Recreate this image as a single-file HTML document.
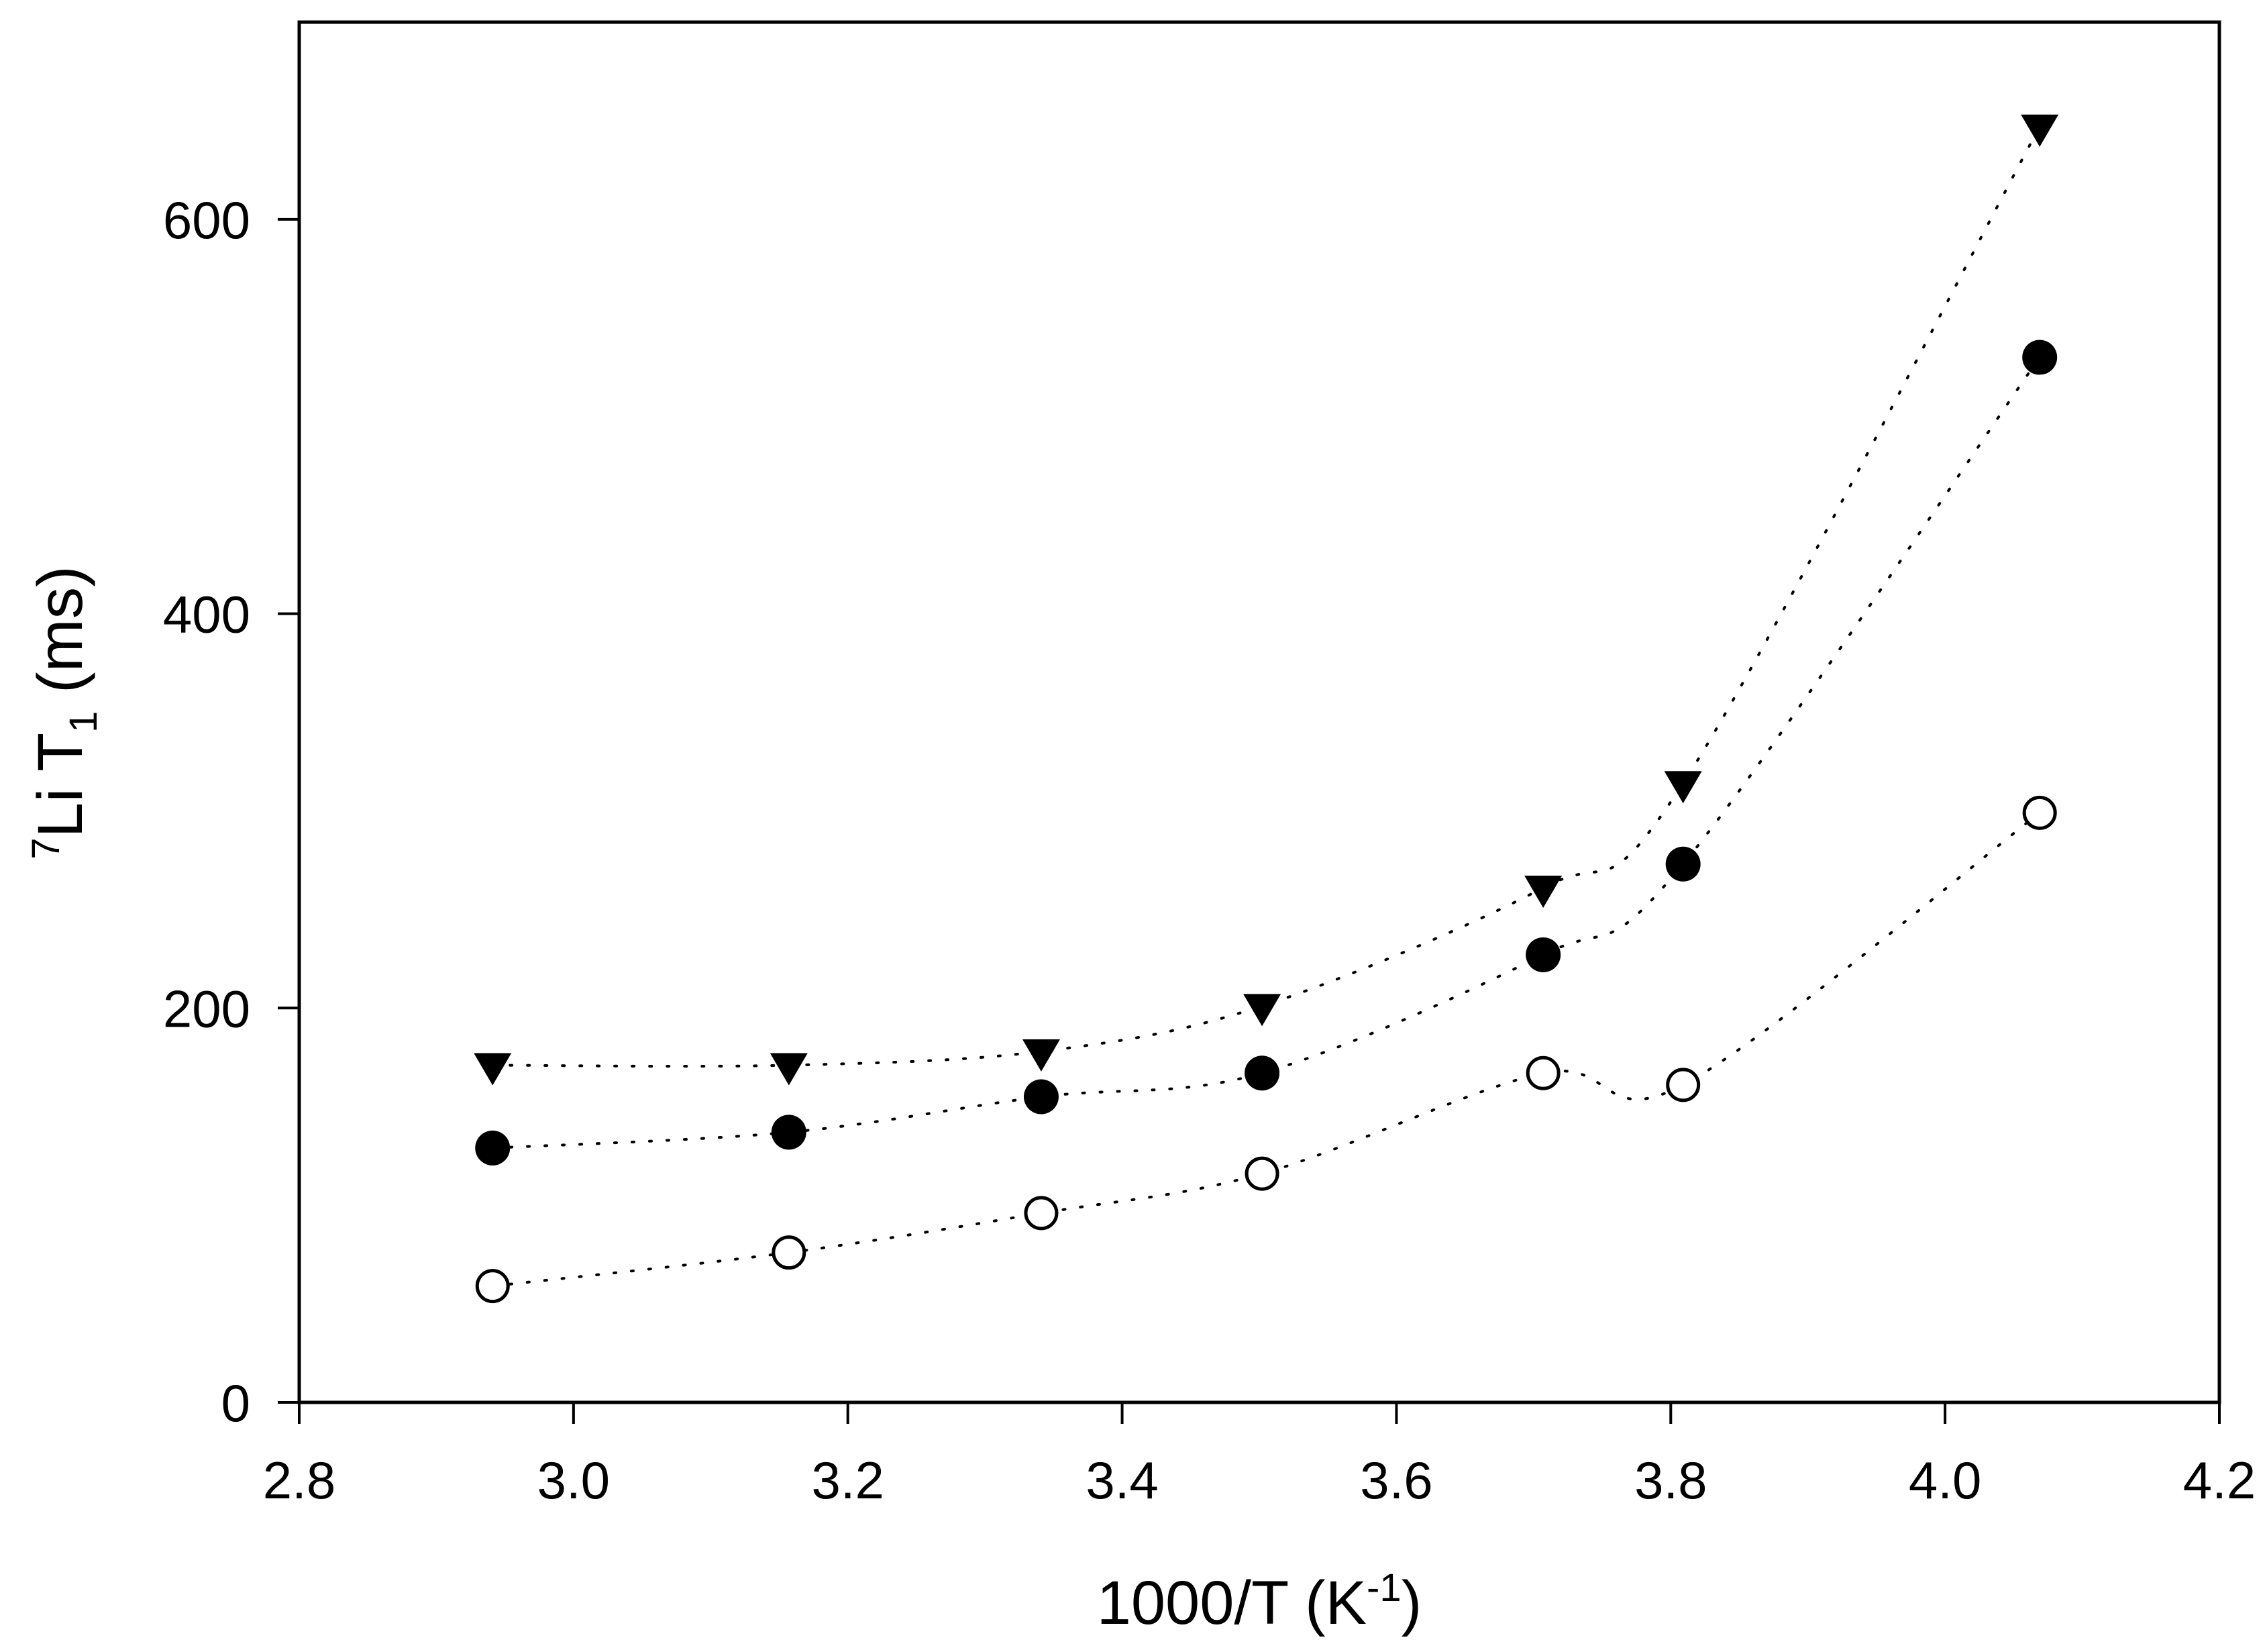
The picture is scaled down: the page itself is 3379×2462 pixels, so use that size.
<!DOCTYPE html>
<html><head><meta charset="utf-8"><style>
html,body{margin:0;padding:0;background:#fff;}
svg{display:block;font-family:"Liberation Sans",Arial,sans-serif;}
</style></head><body>
<svg id="chart" width="3379" height="2462" viewBox="0 0 3379 2462" xmlns="http://www.w3.org/2000/svg">
<g id="axes"></g><g id="series"></g>
</svg>
<script>
const xTicks=[2.8,3.0,3.2,3.4,3.6,3.8,4.0,4.2];
const xTickLabels=["2.8","3.0","3.2","3.4","3.6","3.8","4.0","4.2"];
const yTicks=[0,200,400,600];
const yTickLabels=["0","200","400","600"];
const xValues=[2.941,3.157,3.341,3.502,3.707,3.809,4.069];
const triangleValues=[171,171,178,201,261,314,647];
const filledCircleValues=[129,137,155,167,227,273,530];
const openCircleValues=[59,76,96,116,167,161,299];

const L=446,R=3308,T=33,B=2090,XMIN=2.8,XMAX=4.2,YMIN=0,YMAX=700;
const NS="http://www.w3.org/2000/svg";
function sx(v){return L+(v-XMIN)/(XMAX-XMIN)*(R-L);}
function sy(v){return B-(v-YMIN)/(YMAX-YMIN)*(B-T);}
function mk(tag,attrs,parent){const e=document.createElementNS(NS,tag);for(const k in attrs)e.setAttribute(k,attrs[k]);parent.appendChild(e);return e;}
const axes=document.getElementById('axes'),series=document.getElementById('series');

const frame=mk('rect',{x:L,y:T,width:R-L,height:B-T,fill:'none',stroke:'#000','stroke-width':5},axes);


xTicks.forEach((v,i)=>{
  const t=mk('line',{x1:sx(v),x2:sx(v),y1:B,y2:B+32,stroke:'#000','stroke-width':4},axes);
  
  
  const tx=mk('text',{x:sx(v),y:B+143,'font-size':78,'text-anchor':'middle'},axes);
  tx.textContent=xTickLabels[i];
  
  
});
yTicks.forEach((v,i)=>{
  const t=mk('line',{x1:L-32,x2:L,y1:sy(v),y2:sy(v),stroke:'#000','stroke-width':4},axes);
  
  
  const tx=mk('text',{x:373,y:sy(v)+28,'font-size':78,'text-anchor':'end'},axes);
  tx.textContent=yTickLabels[i];
  
  
});
const xt=mk('text',{x:1877,y:2420,'font-size':92,'text-anchor':'middle'},axes);
xt.innerHTML='1000/T (K<tspan dy="-34" font-size="58">-1</tspan><tspan dy="34">)</tspan>';


const yt=mk('text',{x:0,y:0,'font-size':95,'text-anchor':'middle',transform:'translate(122,1062) rotate(-90)'},axes);
yt.innerHTML='<tspan dy="-34" font-size="58">7</tspan><tspan dy="34">Li T</tspan><tspan dy="22" font-size="58">1</tspan><tspan dy="-22"> (ms)</tspan>';



function curve(vals){
  const p=xValues.map((x,i)=>[sx(x),sy(vals[i])]);
  let d='M'+p[0][0]+','+p[0][1];
  for(let i=0;i<p.length-1;i++){
    const p0=p[i-1]||p[i],p1=p[i],p2=p[i+1],p3=p[i+2]||p[i+1];
    const c1=[p1[0]+(p2[0]-p0[0])/6,p1[1]+(p2[1]-p0[1])/6];
    const c2=[p2[0]-(p3[0]-p1[0])/6,p2[1]-(p3[1]-p1[1])/6];
    d+=' C'+c1[0]+','+c1[1]+' '+c2[0]+','+c2[1]+' '+p2[0]+','+p2[1];
  }
  return d;
}
function addLine(vals,name){
  const l=mk('path',{d:curve(vals),fill:'none',stroke:'#000','stroke-width':4,'stroke-dasharray':'3 23','stroke-linecap':'round'},series);
  
  
}
addLine(triangleValues,'triangle-series-line');
addLine(filledCircleValues,'filled-circle-series-line');
addLine(openCircleValues,'open-circle-series-line');
xValues.forEach((x,i)=>{
  const cx=sx(x);
  let y=sy(triangleValues[i]);
  const tr=mk('path',{d:`M${cx-28},${y-18} L${cx+28},${y-18} L${cx},${y+30} Z`,fill:'#000'},series);
  
  
  y=sy(filledCircleValues[i]);
  const fc=mk('circle',{cx:cx,cy:y,r:26,fill:'#000'},series);
  
  
  y=sy(openCircleValues[i]);
  const oc=mk('circle',{cx:cx,cy:y,r:23,fill:'#fff',stroke:'#000','stroke-width':5},series);
  
  
});
</script>
</body></html>
